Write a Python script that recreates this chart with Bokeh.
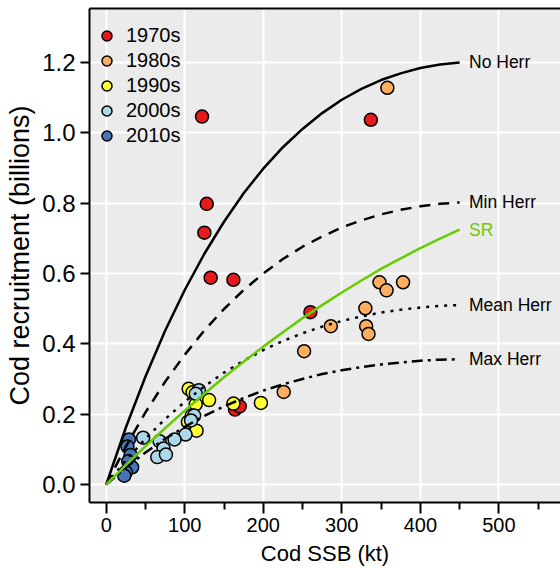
from bokeh.plotting import figure
from bokeh.models import (Range1d, FixedTicker, PrintfTickFormatter, LinearAxis,
                          Legend, LegendItem, ColumnDataSource)
from bokeh.core.properties import value
from bokeh.embed import file_html
from bokeh.resources import INLINE

FONT = "Liberation Sans"

# ---------------- data ----------------
decades = ["1970s", "1980s", "1990s", "2000s", "2010s"]

ssb_1970s = [122, 128, 125, 133, 162, 337, 260, 164, 170]
rec_1970s = [1.046, 0.798, 0.716, 0.588, 0.582, 1.037, 0.490, 0.213, 0.222]

ssb_1980s = [358, 348, 357, 378, 330, 331, 334, 286, 252, 226]
rec_1980s = [1.128, 0.575, 0.552, 0.575, 0.501, 0.450, 0.428, 0.450, 0.379, 0.263]

ssb_1990s = [105, 110, 131, 114, 104, 115, 162, 197, 109]
rec_1990s = [0.272, 0.262, 0.240, 0.228, 0.178, 0.153, 0.230, 0.232, 0.196]

ssb_2000s = [118, 114, 112, 108, 101, 87, 68, 47, 73, 65, 76]
rec_2000s = [0.268, 0.258, 0.196, 0.182, 0.142, 0.128, 0.123, 0.133, 0.102, 0.078, 0.085]

ssb_2010s = [29, 27, 31, 28, 33, 25, 23]
rec_2010s = [0.128, 0.108, 0.084, 0.066, 0.049, 0.035, 0.025]

curve_ssb = [0, 25, 50, 75, 100, 125, 150, 175, 200, 225, 250, 275, 300,
             325, 350, 375, 400, 425, 450]
no_herr = [0, 0.162, 0.307, 0.437, 0.553, 0.656, 0.747, 0.828, 0.898, 0.959,
           1.011, 1.056, 1.094, 1.125, 1.150, 1.169, 1.184, 1.194, 1.200]
min_herr = [0, 0.108, 0.205, 0.292, 0.369, 0.438, 0.499, 0.553, 0.600, 0.641,
            0.676, 0.705, 0.731, 0.751, 0.768, 0.781, 0.791, 0.798, 0.802]
mean_herr = [0, 0.069, 0.130, 0.186, 0.235, 0.279, 0.318, 0.352, 0.382, 0.408,
             0.430, 0.449, 0.465, 0.478, 0.489, 0.497, 0.503, 0.508, 0.510]
max_herr = [0, 0.048, 0.091, 0.130, 0.164, 0.195, 0.222, 0.246, 0.267, 0.285,
            0.300, 0.314, 0.325, 0.334, 0.341, 0.347, 0.352, 0.355, 0.356]
sr_curve = [0, 0.055, 0.109, 0.160, 0.210, 0.258, 0.305, 0.349, 0.392, 0.433,
            0.473, 0.510, 0.546, 0.580, 0.613, 0.643, 0.672, 0.699, 0.725]
curve_names = ["No Herr", "Min Herr", "SR", "Mean Herr", "Max Herr"]

x_ticks = [0, 100, 200, 300, 400, 500]
x_minor = [50, 150, 250, 350, 450, 550]
y_ticks = [0.0, 0.2, 0.4, 0.6, 0.8, 1.0, 1.2]

# ---------------- figure ----------------
p = figure(width=560, height=568, output_backend="svg", toolbar_location=None,
           x_range=Range1d(-21.3, 578.5), y_range=Range1d(-0.0512, 1.3534),
           min_border_left=89, min_border_right=0, min_border_top=8,
           min_border_bottom=66, background_fill_color="#EBEBEB",
           outline_line_color=None)

p.xaxis.ticker = FixedTicker(ticks=x_ticks, minor_ticks=x_minor)
p.yaxis.ticker = FixedTicker(ticks=y_ticks)
p.yaxis.formatter = PrintfTickFormatter(format="%.1f")

p.xgrid.grid_line_color = "white"
p.ygrid.grid_line_color = "white"
p.xgrid.grid_line_width = 2
p.ygrid.grid_line_width = 2

for ax in (p.xaxis[0], p.yaxis[0]):
    ax.axis_line_width = 2
    ax.axis_line_color = "black"
    ax.major_tick_line_width = 2
    ax.minor_tick_line_width = 2
    ax.major_tick_in = 0
    ax.minor_tick_in = 0
    ax.major_label_text_font = FONT
    ax.major_label_text_color = "black"
    ax.axis_label_text_font = FONT
    ax.axis_label_text_font_style = "normal"
    ax.axis_label_text_color = "black"

p.xaxis.major_tick_out = 11
p.xaxis.minor_tick_out = 7
p.xaxis.major_label_standoff = 4
p.xaxis.major_label_text_font_size = "20px"
p.xaxis.axis_label = "Cod SSB (kt)"
p.xaxis.axis_label_text_font_size = "22px"
p.xaxis.axis_label_standoff = 6

p.yaxis.major_tick_out = 9
p.yaxis.minor_tick_out = 0
p.yaxis.major_label_standoff = 5
p.yaxis.major_label_text_font_size = "24px"
p.yaxis.axis_label = "Cod recruitment (billions)"
p.yaxis.axis_label_text_font_size = "27px"
p.yaxis.axis_label_standoff = 4

top = LinearAxis(ticker=FixedTicker(ticks=[]), axis_line_width=2,
                 major_tick_out=0, minor_tick_out=0, major_tick_in=0,
                 minor_tick_in=0, major_label_text_font_size="0px",
                 major_label_standoff=0)
p.add_layout(top, "above")

# ---------------- points ----------------
colors = ["#E41A1C", "#FDAE61", "#FFFF33", "#ABD9E9", "#4575B4"]
series = [(ssb_1970s, rec_1970s), (ssb_1980s, rec_1980s), (ssb_1990s, rec_1990s),
          (ssb_2000s, rec_2000s), (ssb_2010s, rec_2010s)]
renderers = []
for (xs, ys), c in zip(series, colors):
    r = p.scatter(xs, ys, size=13, fill_color=c, line_color="black", line_width=1.5)
    renderers.append(r)

# ---------------- curves ----------------
p.line(curve_ssb, no_herr, line_color="black", line_width=2.5)
p.line(curve_ssb, min_herr, line_color="black", line_width=2.5, line_dash="11 8")
p.line(curve_ssb, mean_herr, line_color="black", line_width=2.5, line_dash="3 6")
p.line(curve_ssb, max_herr, line_color="black", line_width=2.5, line_dash="11 5 3 5")
p.line(curve_ssb, sr_curve, line_color="#66CC00", line_width=2.5)

label_y = [no_herr[-1], min_herr[-1], sr_curve[-1], mean_herr[-1], max_herr[-1]]
label_colors = ["black", "black", "#66CC00", "black", "black"]
src = ColumnDataSource(dict(x=[462] * len(curve_names), y=label_y,
                            t=curve_names, c=label_colors))
p.text(x="x", y="y", text="t", text_color="c", source=src, text_align="left",
       text_baseline="middle", text_font=value(FONT), text_font_size="17.5px")

# ---------------- legend ----------------
items = [LegendItem(label=d, renderers=[r]) for d, r in zip(decades, renderers)]
legend = Legend(items=items, location=(5, 354), glyph_width=25, glyph_height=25,
                label_height=25, spacing=0, padding=0, margin=0,
                label_standoff=7, background_fill_alpha=0, border_line_color=None,
                label_text_font=FONT, label_text_font_size="20px",
                label_text_color="black", label_text_baseline="middle")
p.add_layout(legend)

open("out.html", "w").write(file_html(p, INLINE))
